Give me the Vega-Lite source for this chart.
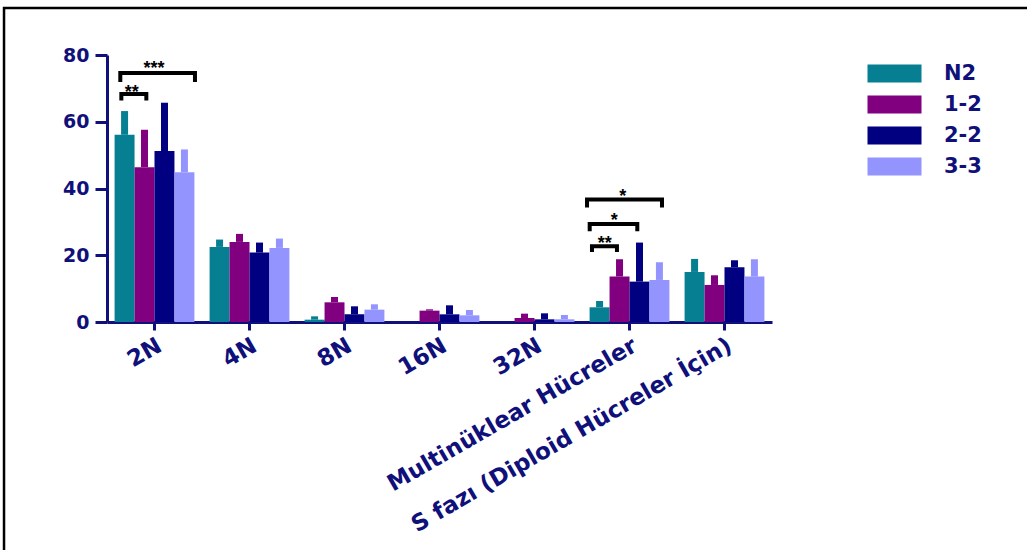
{
  "$schema": "https://vega.github.io/schema/vega-lite/v6.json",
  "width": 665,
  "height": 267,
  "autosize": {"type": "none"},
  "padding": {"left": 107, "top": 55, "right": 255, "bottom": 228},
  "config": {"font": "DejaVu Sans", "view": {"stroke": null}},
  "datasets": {
    "bars": [
      {"cat": "2N", "group": "N2", "mean": 56.1, "upper": 63.2},
      {"cat": "2N", "group": "1-2", "mean": 46.4, "upper": 57.6},
      {"cat": "2N", "group": "2-2", "mean": 51.2, "upper": 65.7},
      {"cat": "2N", "group": "3-3", "mean": 44.9, "upper": 51.7},
      {"cat": "4N", "group": "N2", "mean": 22.5, "upper": 24.7},
      {"cat": "4N", "group": "1-2", "mean": 24.0, "upper": 26.4},
      {"cat": "4N", "group": "2-2", "mean": 20.8, "upper": 23.8},
      {"cat": "4N", "group": "3-3", "mean": 22.2, "upper": 25.0},
      {"cat": "8N", "group": "N2", "mean": 0.7, "upper": 1.7},
      {"cat": "8N", "group": "1-2", "mean": 5.9, "upper": 7.5},
      {"cat": "8N", "group": "2-2", "mean": 2.3, "upper": 4.7},
      {"cat": "8N", "group": "3-3", "mean": 3.7, "upper": 5.3},
      {"cat": "16N", "group": "N2", "mean": 0, "upper": 0},
      {"cat": "16N", "group": "1-2", "mean": 3.4, "upper": 3.8},
      {"cat": "16N", "group": "2-2", "mean": 2.3, "upper": 5.0},
      {"cat": "16N", "group": "3-3", "mean": 2.0, "upper": 3.6},
      {"cat": "32N", "group": "N2", "mean": 0, "upper": 0},
      {"cat": "32N", "group": "1-2", "mean": 1.2, "upper": 2.5},
      {"cat": "32N", "group": "2-2", "mean": 0.8, "upper": 2.6},
      {"cat": "32N", "group": "3-3", "mean": 0.8, "upper": 2.1},
      {"cat": "Multinüklear Hücreler", "group": "N2", "mean": 4.4, "upper": 6.3},
      {"cat": "Multinüklear Hücreler", "group": "1-2", "mean": 13.6, "upper": 18.8},
      {"cat": "Multinüklear Hücreler", "group": "2-2", "mean": 12.1, "upper": 23.8},
      {"cat": "Multinüklear Hücreler", "group": "3-3", "mean": 12.6, "upper": 17.9},
      {"cat": "S fazı (Diploid Hücreler İçin)", "group": "N2", "mean": 15.0, "upper": 18.9},
      {"cat": "S fazı (Diploid Hücreler İçin)", "group": "1-2", "mean": 11.1, "upper": 14.0},
      {"cat": "S fazı (Diploid Hücreler İçin)", "group": "2-2", "mean": 16.4, "upper": 18.5},
      {"cat": "S fazı (Diploid Hücreler İçin)", "group": "3-3", "mean": 13.6, "upper": 18.8}
    ],
    "brackets": [
      {"id": "b1", "o": 1, "x": 0.151, "y": 66.4},
      {"id": "b1", "o": 2, "x": 0.151, "y": 68.3},
      {"id": "b1", "o": 3, "x": 0.414, "y": 68.3},
      {"id": "b1", "o": 4, "x": 0.414, "y": 66.4},
      {"id": "b2", "o": 1, "x": 0.140, "y": 71.9},
      {"id": "b2", "o": 2, "x": 0.140, "y": 74.6},
      {"id": "b2", "o": 3, "x": 0.926, "y": 74.6},
      {"id": "b2", "o": 4, "x": 0.926, "y": 71.9},
      {"id": "b3", "o": 1, "x": 5.105, "y": 21.0},
      {"id": "b3", "o": 2, "x": 5.105, "y": 22.7},
      {"id": "b3", "o": 3, "x": 5.368, "y": 22.7},
      {"id": "b3", "o": 4, "x": 5.368, "y": 21.0},
      {"id": "b4", "o": 1, "x": 5.081, "y": 27.2},
      {"id": "b4", "o": 2, "x": 5.081, "y": 29.4},
      {"id": "b4", "o": 3, "x": 5.582, "y": 29.4},
      {"id": "b4", "o": 4, "x": 5.582, "y": 27.2},
      {"id": "b5", "o": 1, "x": 5.053, "y": 34.3},
      {"id": "b5", "o": 2, "x": 5.053, "y": 36.7},
      {"id": "b5", "o": 3, "x": 5.842, "y": 36.7},
      {"id": "b5", "o": 4, "x": 5.842, "y": 34.3}
    ],
    "stars": [
      {"x": 0.26, "y": 70.3, "label": "**"},
      {"x": 0.495, "y": 77.7, "label": "***"},
      {"x": 5.24, "y": 25.1, "label": "**"},
      {"x": 5.34, "y": 32.0, "label": "*"},
      {"x": 5.43, "y": 39.2, "label": "*"}
    ]
  },
  "layer": [
    {
      "data": {"name": "bars"},
      "encoding": {
        "x": {
          "field": "cat", "type": "nominal", "sort": null,
          "scale": {"paddingInner": 0.16, "paddingOuter": 0.08},
          "axis": {
            "title": null, "labelAngle": -30, "labelFontSize": 23, "labelFontWeight": "bold",
            "labelLimit": 1000, "labelOverlap": false,
            "labelColor": "#10107a", "domainColor": "#10107a", "domainWidth": 3,
            "tickColor": "#10107a", "tickWidth": 3, "tickSize": 8, "labelPadding": 4
          }
        },
        "xOffset": {"field": "group", "type": "nominal", "sort": ["N2", "1-2", "2-2", "3-3"], "scale": {"paddingInner": 0, "paddingOuter": 0}},
        "color": {
          "field": "group", "type": "nominal", "sort": ["N2", "1-2", "2-2", "3-3"],
          "scale": {"domain": ["N2", "1-2", "2-2", "3-3"], "range": ["#077F92", "#800080", "#000080", "#9494FF"]},
          "legend": {
            "title": null, "orient": "none", "legendX": 777, "legendY": 8,
            "symbolType": "M-3,-1H3V1H-3Z", "symbolSize": 324,
            "symbolStrokeWidth": 0, "symbolOpacity": 1,
            "labelFontSize": 21, "labelFontWeight": "bold", "labelColor": "#10107a", "labelOffset": 39,
            "rowPadding": 9
          }
        }
      },
      "layer": [
        {
          "mark": {"type": "bar"},
          "encoding": {
            "y": {
              "field": "mean", "type": "quantitative",
              "scale": {"domain": [0, 80], "nice": false},
              "axis": {
                "title": null, "values": [0, 20, 40, 60, 80], "grid": false,
                "labelFontSize": 19, "labelFontWeight": "bold", "labelColor": "#10107a",
                "domainColor": "#10107a", "domainWidth": 3, "tickColor": "#10107a",
                "tickWidth": 3, "tickSize": 12, "labelPadding": 6
              }
            }
          }
        },
        {
          "mark": {"type": "bar", "width": 7},
          "encoding": {
            "y": {"field": "mean", "type": "quantitative"},
            "y2": {"field": "upper"}
          }
        }
      ]
    },
    {
      "layer": [
        {
          "data": {"name": "brackets"},
          "mark": {"type": "line", "color": "black", "strokeWidth": 4, "strokeJoin": "miter", "clip": false},
          "encoding": {
            "x": {"field": "x", "type": "quantitative", "scale": {"domain": [0, 7], "nice": false, "zero": false}, "axis": null},
            "y": {"field": "y", "type": "quantitative"},
            "detail": {"field": "id"},
            "order": {"field": "o"}
          }
        },
        {
          "data": {"name": "stars"},
          "mark": {"type": "text", "fontSize": 18, "fontWeight": "bold", "color": "black", "baseline": "middle", "dy": 6, "font": "Liberation Sans"},
          "encoding": {
            "x": {"field": "x", "type": "quantitative", "scale": {"domain": [0, 7], "nice": false, "zero": false}, "axis": null},
            "y": {"field": "y", "type": "quantitative"},
            "text": {"field": "label"}
          }
        },
        {
          "data": {"values": [{}]},
          "mark": {"type": "rect", "fill": null, "stroke": "black", "strokeWidth": 2.5, "clip": false},
          "encoding": {
            "x": {"datum": -1.084, "type": "quantitative", "scale": {"domain": [0, 7], "nice": false, "zero": false}, "axis": null},
            "x2": {"datum": 11},
            "y": {"datum": 94.1, "type": "quantitative"},
            "y2": {"datum": -80}
          }
        }
      ]
    }
  ],
  "resolve": {"scale": {"x": "independent"}, "axis": {"x": "independent"}}
}
